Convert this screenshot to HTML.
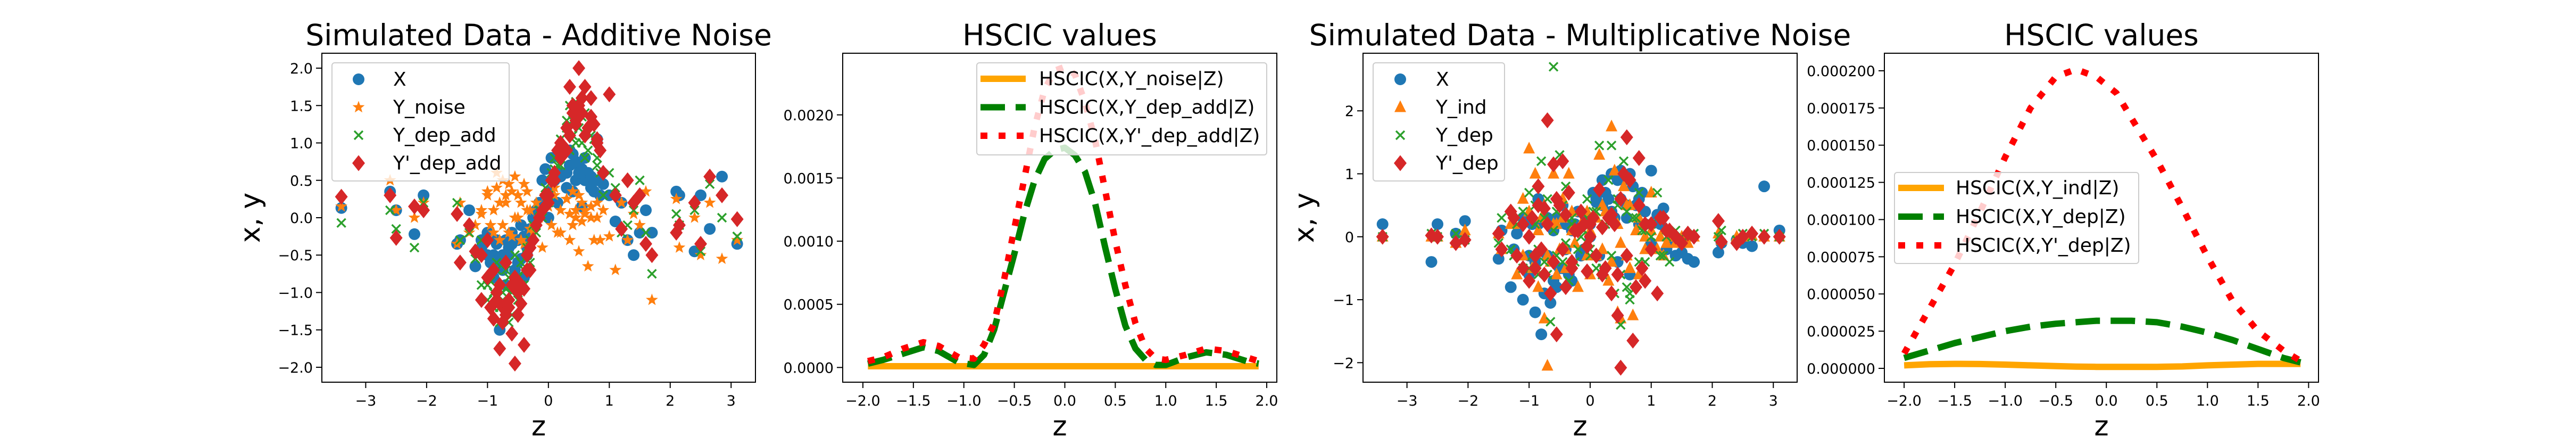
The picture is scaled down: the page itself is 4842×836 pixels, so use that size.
<!DOCTYPE html>
<html><head><meta charset="utf-8"><title>HSCIC simulated data</title>
<style>
html,body{margin:0;padding:0;background:#fff;}
svg{display:block;font-family:"DejaVu Sans","Liberation Sans",sans-serif;}
</style></head>
<body>
<svg id="fig" width="4842" height="836" viewBox="0 0 4842 836" xmlns="http://www.w3.org/2000/svg">
<rect x="0" y="0" width="4842" height="836" fill="#fff"/>
</svg>
<script>
// ---------- Panel 1 data (additive noise) ----------
const zAdd = [-3.4,-2.6,-2.5,-2.2,-2.05,-1.5,-1.45,-1.3,-1.2,-1.1,
 -1.0,-0.95,-0.9,-0.85,-0.8,-0.75,-0.7,-0.65,-0.6,-0.55,
 -0.5,-0.45,-0.4,-0.35,-0.3,-0.2,-0.1,-0.05,0.0,0.05,
 0.1,0.15,0.2,0.3,0.35,0.4,0.45,0.5,0.55,0.6,
 0.65,0.7,0.8,0.85,0.9,1.0,1.1,1.2,1.3,1.4,
 1.5,1.6,1.7,2.1,2.15,2.4,2.5,2.65,2.85,3.1];
const xAdd = [0.13,0.35,0.1,-0.22,0.3,-0.35,-0.3,0.1,-0.65,-0.3,
 -0.5,-0.6,-0.8,-0.35,-1.5,-0.5,-0.3,-0.4,-0.2,-0.7,
 -0.3,-0.1,-0.8,-0.5,-0.15,0.1,0.5,0.65,0.0,0.8,
 0.5,0.2,0.6,0.4,0.9,0.35,0.5,0.7,0.15,0.5,
 0.6,0.4,1.05,0.3,0.45,0.3,-0.05,0.2,-0.3,-0.5,
 -0.2,0.1,-0.2,0.35,0.3,-0.45,0.3,-0.15,0.55,-0.35];
const yNoise = [0.15,0.5,0.1,0.0,0.2,-0.35,0.2,-0.2,-0.1,0.05,
 0.3,-0.1,0.1,0.4,-0.3,0.5,0.2,-0.2,0.35,0.0,
 0.3,-0.3,0.45,0.1,-0.15,0.2,-0.4,0.3,0.15,-0.1,
 0.4,-0.2,0.1,0.25,-0.3,0.35,0.0,-0.45,0.2,0.05,
 -0.65,0.15,0.0,-0.3,0.1,-0.25,-0.7,0.2,-0.3,0.05,
 -0.1,0.35,-1.1,0.25,-0.4,0.0,-0.5,0.2,-0.55,-0.3];
const yDepAdd = [-0.07,0.1,-0.15,-0.4,0.2,0.2,-0.3,-0.2,-0.55,-0.9,
 -1.1,-0.85,-1.2,-0.7,-1.4,-1.0,-0.95,-0.8,-1.3,-0.9,
 -0.8,-0.6,-0.9,-0.5,-0.3,-0.2,0.0,0.4,0.3,0.6,
 0.8,0.7,1.05,1.3,1.5,1.1,1.55,1.2,1.0,1.4,
 0.9,1.3,0.7,0.6,0.3,0.6,0.4,-0.2,-0.1,0.1,
 0.5,-0.2,-0.75,0.05,-0.1,0.1,-0.45,0.45,0.0,-0.25];
const yPDepAdd = [0.28,0.3,-0.27,0.15,0.1,0.05,-0.6,-0.1,-0.45,-1.1,
 -0.8,-1.2,-1.35,-1.0,-1.75,-1.2,-1.3,-1.1,-1.55,-1.95,
 -1.0,-0.9,-1.7,-0.7,-0.4,-0.1,0.1,0.3,0.2,0.5,
 0.6,0.9,1.0,1.2,1.75,1.5,1.3,2.0,1.4,1.75,
 1.2,1.6,1.0,0.9,0.6,1.65,0.3,-0.15,0.5,0.2,
 0.3,-0.35,-0.5,-0.2,-0.1,0.2,-0.35,0.55,0.3,-0.02];
// second batch of central samples
const zAdd2 = [-1.1,-1.0,-0.9,-0.85,-0.8,-0.75,-0.7,-0.65,-0.6,-0.55,
 -0.5,-0.45,-0.4,-0.35,-0.3,-0.25,-0.15,0.0,0.1,0.2,
 0.3,0.35,0.4,0.45,0.5,0.55,0.6,0.7,0.75,0.8];
const xAdd2 = [-0.4,-0.2,-0.5,-0.3,-0.6,-0.7,-0.9,-0.5,-0.35,-0.8,
 -0.6,-0.55,-0.25,-0.4,-0.3,0.0,0.2,0.35,0.5,0.55,
 0.6,0.7,0.85,0.75,0.6,0.65,0.8,0.55,0.35,0.5];
const yNoise2 = [0.1,0.35,-0.2,0.6,0.2,-0.1,0.3,0.45,-0.25,0.55,
 0.0,0.2,-0.35,0.35,0.1,-0.2,0.0,0.15,0.3,-0.2,
 0.25,0.05,-0.1,0.1,0.3,-0.05,0.1,0.0,-0.3,0.2];
const yDepAdd2 = [-0.3,-0.9,-1.0,-0.6,-1.2,-1.1,-0.7,-1.4,-1.0,-0.5,
 -1.1,-0.9,-0.7,-0.4,-0.6,-0.1,0.1,0.2,0.65,0.7,
 1.2,0.9,1.3,1.0,1.2,1.35,0.8,1.1,1.05,0.8];
const yPDepAdd2 = [-0.5,-0.3,-0.7,-1.1,-0.9,-1.4,-0.6,-1.2,-0.9,-0.8,
 -1.3,-1.15,-0.95,-0.5,-0.7,-0.3,0.0,0.3,0.5,0.8,
 0.9,1.1,1.4,1.25,1.5,1.6,1.1,1.35,1.25,1.05];
const ticksX1 = [-3,-2,-1,0,1,2,3];
const ticksY1 = [-2.0,-1.5,-1.0,-0.5,0.0,0.5,1.0,1.5,2.0];

// ---------- Panel 2 data (HSCIC additive) ----------
const zH2 = [-1.95,-1.8,-1.6,-1.4,-1.25,-1.05,-0.9,-0.8,-0.7,-0.6,-0.5,-0.4,-0.3,-0.2,-0.1,0.0,0.1,0.2,0.3,0.4,0.5,0.6,0.7,0.8,0.9,1.0,1.2,1.4,1.6,1.8,1.92];
const hNoise = [0.00001,0.00001,0.00001,0.00001,0.00001,0.00001,0.00001,0.00001,0.00001,0.00001,0.00001,0.00001,0.00001,0.00001,0.00001,0.00001,0.00001,0.00001,0.00001,0.00001,0.00001,0.00001,0.00001,0.00001,0.00001,0.00001,0.00001,0.00001,0.00001,0.00001,0.00001];
const hDepAdd = [0.00003,0.00006,0.00011,0.00016,0.00013,0.00004,0.00002,0.0001,0.0003,0.0006,0.0009,0.00122,0.00148,0.00165,0.00172,0.00174,0.00168,0.00155,0.0013,0.00095,0.00062,0.00033,0.00015,0.00006,0.00002,0.00002,0.00008,0.00012,0.0001,0.00005,0.00003];
const hPDepAdd = [0.00005,0.00008,0.00015,0.0002,0.00017,0.00008,0.00007,0.00018,0.00035,0.0007,0.0011,0.0015,0.0019,0.0022,0.00235,0.00238,0.00232,0.0021,0.0018,0.0014,0.001,0.00065,0.00035,0.00015,0.00007,0.00006,0.0001,0.00015,0.00013,0.00008,0.00005];
const ticksX2 = [-2.0,-1.5,-1.0,-0.5,0.0,0.5,1.0,1.5,2.0];
const ticksY2 = [0.0,0.0005,0.001,0.0015,0.002];

// ---------- Panel 3 data (multiplicative noise) ----------
const zMul = [-3.4,-2.6,-2.5,-2.2,-2.05,-1.5,-1.45,-1.3,-1.2,-1.1,
 -1.0,-0.95,-0.9,-0.85,-0.8,-0.75,-0.7,-0.65,-0.6,-0.55,
 -0.5,-0.45,-0.4,-0.35,-0.3,-0.2,-0.1,-0.05,0.0,0.05,
 0.1,0.15,0.2,0.3,0.35,0.4,0.45,0.5,0.55,0.6,
 0.65,0.7,0.8,0.85,0.9,1.0,1.1,1.2,1.3,1.4,
 1.5,1.6,1.7,2.1,2.15,2.4,2.5,2.65,2.85,3.1];
const xMul = [0.2,-0.4,0.2,0.05,0.25,-0.35,0.1,-0.8,0.05,-1.0,
 -0.3,0.2,-1.2,0.6,-1.55,-0.9,0.3,-1.05,0.1,-0.8,
 -0.5,0.5,0.2,-0.6,-0.7,0.4,-0.2,0.3,0.0,0.7,
 0.55,-0.3,0.9,0.6,1.0,0.3,-0.4,1.05,0.9,0.5,
 -0.6,0.8,0.6,0.7,0.2,1.05,0.35,0.45,-0.1,-0.3,
 -0.25,-0.35,-0.4,-0.25,-0.1,-0.05,-0.1,-0.15,0.8,0.1];
const yInd = [0.0,0.0,0.0,-0.1,0.1,0.05,-0.2,0.2,-0.6,0.6,
 1.4,-0.5,1.0,-0.8,0.3,-1.3,-2.05,-0.4,1.0,0.2,
 -0.2,0.6,-0.5,1.0,0.1,-0.8,0.2,0.4,-0.6,0.3,
 -0.3,1.3,0.5,-0.7,1.75,1.05,-1.2,-1.3,0.8,-0.3,
 0.5,-1.25,-0.6,0.2,0.0,0.7,-0.2,-0.3,0.0,-0.1,
 0.0,-0.1,0.0,0.05,-0.05,0.0,0.0,0.02,0.0,0.0];
const yDep = [0.0,0.05,0.0,0.05,-0.05,-0.1,0.3,-0.2,0.2,-0.5,
 0.7,-0.3,0.5,-0.6,1.2,-0.4,0.6,-1.35,2.7,0.4,
 1.3,-0.4,0.8,-0.7,0.3,-0.2,0.1,0.6,-0.3,0.4,
 -0.5,1.45,-0.6,0.9,1.45,-0.9,0.5,-1.4,1.2,-0.8,
 -1.0,0.3,0.7,0.1,-0.4,0.0,0.7,-0.3,-0.4,0.1,
 0.0,0.0,0.05,0.0,0.1,-0.05,0.05,0.0,0.05,0.0];
const yPDep = [0.0,0.02,0.0,-0.1,-0.05,0.05,-0.2,0.4,-0.3,0.2,
 -0.7,0.3,-0.5,0.8,-0.2,0.45,1.85,-0.9,1.15,-1.55,
 0.5,1.2,-0.8,0.7,-0.4,0.1,0.2,-0.55,0.0,0.3,
 -0.3,0.75,-0.6,0.3,-0.9,0.2,-1.25,-2.08,1.0,1.58,
 0.9,-1.65,1.25,-0.5,-0.7,0.2,-0.9,0.3,0.1,0.0,
 -0.1,0.05,0.0,0.25,-0.08,-0.1,0.0,0.05,0.0,0.0];
const zMul2 = [-1.25,-1.1,-1.0,-0.9,-0.85,-0.75,-0.7,-0.6,-0.55,-0.45,
 -0.4,-0.3,-0.25,-0.15,-0.05,0.0,0.1,0.2,0.25,0.35,
 0.45,0.5,0.6,0.65,0.75,0.8,0.9,1.0,1.15,1.25];
const xMul2 = [-0.2,0.3,-0.6,-0.4,0.2,-0.9,-0.3,-0.7,0.3,-0.5,
 -0.2,0.1,0.2,-0.3,0.3,0.2,0.6,0.5,0.7,0.4,
 0.9,0.6,0.3,1.0,0.5,0.2,0.4,-0.1,0.2,-0.2];
const yInd2 = [0.2,-0.3,0.4,-0.5,0.1,0.5,-0.3,0.2,-0.6,0.3,
 -0.2,0.4,-0.1,0.2,-0.3,0.1,0.3,-0.2,0.4,-0.4,
 0.2,-0.1,0.5,-0.5,0.1,0.3,-0.2,0.1,0.0,-0.1];
const yDep2 = [-0.3,0.4,-0.5,0.2,-0.2,0.3,-0.6,0.1,-0.3,0.5,
 -0.1,0.2,-0.4,0.0,0.3,-0.2,0.4,-0.5,0.2,-0.3,
 0.6,-0.6,0.4,-0.9,0.3,-0.4,0.1,0.2,-0.3,0.0];
const yPDep2 = [0.3,-0.5,0.0,-0.3,0.5,-0.6,0.2,-0.4,0.6,-0.2,
 0.35,-0.5,0.1,0.4,-0.15,0.2,-0.3,0.15,-0.5,0.35,
 -0.6,0.6,-0.3,0.9,-0.8,0.5,0.2,-0.2,0.3,0.1];
const ticksX3 = [-3,-2,-1,0,1,2,3];
const ticksY3 = [-2,-1,0,1,2];

// ---------- Panel 4 data (HSCIC multiplicative) ----------
const zH4 = [-2.0,-1.75,-1.5,-1.25,-1.0,-0.75,-0.5,-0.3,-0.1,0.1,0.25,0.5,0.75,1.0,1.25,1.5,1.75,1.92];
const hInd = [0.000002,0.0000028,0.000003,0.0000029,0.0000025,0.000002,0.0000015,0.0000012,0.000001,0.000001,0.000001,0.000001,0.0000013,0.000002,0.0000025,0.000003,0.000003,0.000003];
const hDep = [0.000007,0.000012,0.000017,0.000021,0.000025,0.000028,0.00003,0.000031,0.000032,0.000032,0.000032,0.000031,0.000028,0.000024,0.000019,0.000013,0.000007,0.000004];
const hPDep = [0.00001,0.00004,0.00007,0.000105,0.000142,0.000175,0.000196,0.000201,0.000196,0.000185,0.000168,0.00014,0.000108,0.000075,0.000045,0.000025,0.000012,0.000005];
const ticksX4 = [-2.0,-1.5,-1.0,-0.5,0.0,0.5,1.0,1.5,2.0];
const ticksY4 = [0,0.000025,0.00005,0.000075,0.0001,0.000125,0.00015,0.000175,0.0002];

const NS = 'http://www.w3.org/2000/svg';
const svg = document.getElementById('fig');
function mk(tag, attrs, parent){
  const e = document.createElementNS(NS, tag);
  for (const k in attrs) e.setAttribute(k, attrs[k]);
  (parent||svg).appendChild(e);
  return e;
}
function scale(d0,d1,r0,r1){ return v => r0 + (v-d0)/(d1-d0)*(r1-r0); }

function marker(g, type, cx, cy, color){
  let e;
  if (type==='circle'){
    e = mk('circle',{cx:cx,cy:cy,r:11,fill:color},g);
  } else if (type==='diamond'){
    e = mk('polygon',{points:`${cx},${cy-15} ${cx+12},${cy} ${cx},${cy+15} ${cx-12},${cy}`,fill:color},g);
  } else if (type==='x'){
    e = mk('path',{d:`M${cx-8},${cy-8}L${cx+8},${cy+8}M${cx-8},${cy+8}L${cx+8},${cy-8}`,stroke:color,'stroke-width':3.4,fill:'none'},g);
  } else if (type==='tri'){
    e = mk('polygon',{points:`${cx},${cy-13} ${cx+11},${cy+9} ${cx-11},${cy+9}`,fill:color},g);
  } else if (type==='star'){
    let p=[];
    for(let i=0;i<10;i++){const r=i%2?5:12;const a=-Math.PI/2+i*Math.PI/5;p.push((cx+r*Math.cos(a)).toFixed(1)+','+(cy+r*Math.sin(a)).toFixed(1));}
    e = mk('polygon',{points:p.join(' '),fill:color},g);
  }
  return e;
}

function fmt(v, d){ return (v<0?'\u2212':'') + Math.abs(v).toFixed(d); }

function axes(p){
  const g = mk('g',{});
  
  
  const sx = scale(p.xd[0],p.xd[1],p.L,p.R);
  const sy = scale(p.yd[0],p.yd[1],p.B,p.T);
  p.tx.forEach(t=>{
    const x=sx(t);
    mk('line',{x1:x,y1:p.B,x2:x,y2:p.B+11,stroke:'#000','stroke-width':2},g);
    const tl = mk('text',{x:x,y:762,'font-size':27,'text-anchor':'middle',fill:'#000'},g);
    tl.textContent = fmt(t,p.txd);
    
    
  });
  p.ty.forEach(t=>{
    const y=sy(t);
    mk('line',{x1:p.L-11,y1:y,x2:p.L,y2:y,stroke:'#000','stroke-width':2},g);
    const tl = mk('text',{x:p.L-17,y:y+10,'font-size':27,'text-anchor':'end',fill:'#000'},g);
    tl.textContent = fmt(t,p.tyd);
    
    
  });
  const plot = mk('g',{},g);
  
  
  p.draw(plot, sx, sy);
  mk('rect',{x:p.L,y:p.T,width:p.R-p.L,height:p.B-p.T,fill:'none',stroke:'#000','stroke-width':2},g);
  const tt = mk('text',{x:(p.L+p.R)/2,y:85,'font-size':55,'text-anchor':'middle',fill:'#000'},g);
  tt.textContent = p.title;
  
  
  const xl = mk('text',{x:(p.L+p.R)/2,y:818,'font-size':52,'text-anchor':'middle',fill:'#000'},g);
  xl.textContent = 'z';
  
  
  if (p.ylab){
    const yl = mk('text',{x:0,y:0,'font-size':52,'text-anchor':'middle',fill:'#000',transform:`translate(${p.ylabX+18},409) rotate(-90)`},g);
    yl.textContent = 'x, y';
    
    
  }
  const lg = mk('g',{},g);
  
  
  const lb = p.leg;
  mk('rect',{x:lb.x,y:lb.y,width:lb.w,height:lb.h,rx:5,fill:'#fff','fill-opacity':0.8,stroke:'#ccc','stroke-width':2},lg);
  lb.items.forEach((it,i)=>{
    const y = lb.y0 + i*lb.dy;
    const eg = mk('g',{},lg);
    
    
    if (it.m) marker(eg,it.m,lb.mx,y,it.c);
    else mk('line',Object.assign({x1:lb.mx,y1:y,x2:lb.mx2,y2:y,stroke:it.c,'stroke-width':12},it.dash?{'stroke-dasharray':it.dash}:{}),eg);
    const t = mk('text',{x:lb.tx,y:y+12,'font-size':36,fill:'#000'},eg);
    t.textContent = it.t;
  });
}

function scatter(g, sx, sy, zs, ys, type, color, name){
  const sg = mk('g',{},g);
  
  
  zs.forEach((z,i)=>{
    const e = marker(sg,type,sx(z),sy(ys[i]),color);
    
    
  });
}
function line(g, sx, sy, zs, ys, color, dash, name){
  const d = zs.map((z,i)=>(i?'L':'M')+sx(z).toFixed(1)+','+sy(ys[i]).toFixed(1)).join('');
  const e = mk('path',Object.assign({d:d,fill:'none',stroke:color,'stroke-width':12,'stroke-linejoin':'round'},dash?{'stroke-dasharray':dash}:{}),g);
  
  
}

axes({name:'panel-additive-scatter',L:605,R:1420,T:100,B:718,xd:[-3.72,3.40],yd:[-2.1995,2.1995],
  tx:ticksX1,txd:0,ty:ticksY1,tyd:1,title:'Simulated Data - Additive Noise',ylab:true,ylabX:470,
  draw:(g,sx,sy)=>{
    scatter(g,sx,sy,zAdd,xAdd,'circle','#1f77b4','series-x');
    scatter(g,sx,sy,zAdd2,xAdd2,'circle','#1f77b4','series-x');
    scatter(g,sx,sy,zAdd,yNoise,'star','#ff7f0e','series-y-noise');
    scatter(g,sx,sy,zAdd2,yNoise2,'star','#ff7f0e','series-y-noise');
    scatter(g,sx,sy,zAdd,yDepAdd,'x','#2ca02c','series-y-dep-add');
    scatter(g,sx,sy,zAdd2,yDepAdd2,'x','#2ca02c','series-y-dep-add');
    scatter(g,sx,sy,zAdd,yPDepAdd,'diamond','#d62728','series-yp-dep-add');
    scatter(g,sx,sy,zAdd2,yPDepAdd2,'diamond','#d62728','series-yp-dep-add');
  },
  leg:{x:624,y:118,w:333,h:222,y0:149,dy:52.5,mx:674,tx:739,items:[
    {m:'circle',c:'#1f77b4',t:'X'},{m:'star',c:'#ff7f0e',t:'Y_noise'},
    {m:'x',c:'#2ca02c',t:'Y_dep_add'},{m:'diamond',c:'#d62728',t:"Y'_dep_add"}]}
});

axes({name:'panel-additive-hscic',L:1584,R:2400,T:100,B:718,xd:[-2.2,2.1],yd:[-0.0001165,0.002488],
  tx:ticksX2,txd:1,ty:ticksY2,tyd:4,title:'HSCIC values',ylab:false,
  draw:(g,sx,sy)=>{
    line(g,sx,sy,zH2,hNoise,'#ffa500',null,'line-hscic-noise');
    line(g,sx,sy,zH2,hDepAdd,'#008000','46 20','line-hscic-dep-add');
    line(g,sx,sy,zH2,hPDepAdd,'#ff0000','13 21','line-hscic-yp-dep-add');
  },
  leg:{x:1836,y:118,w:545,h:173,y0:148,dy:53.5,mx:1843,mx2:1928,tx:1953,items:[
    {c:'#ffa500',t:'HSCIC(X,Y_noise|Z)'},{c:'#008000',dash:'46 20',t:'HSCIC(X,Y_dep_add|Z)'},
    {c:'#ff0000',dash:'13 21',t:"HSCIC(X,Y'_dep_add|Z)"}]}
});

axes({name:'panel-multiplicative-scatter',L:2562,R:3378,T:100,B:718,xd:[-3.72,3.39],yd:[-2.31,2.915],
  tx:ticksX3,txd:0,ty:ticksY3,tyd:0,title:'Simulated Data - Multiplicative Noise',ylab:true,ylabX:2451,
  draw:(g,sx,sy)=>{
    scatter(g,sx,sy,zMul,xMul,'circle','#1f77b4','series-x');
    scatter(g,sx,sy,zMul2,xMul2,'circle','#1f77b4','series-x');
    scatter(g,sx,sy,zMul,yInd,'tri','#ff7f0e','series-y-ind');
    scatter(g,sx,sy,zMul2,yInd2,'tri','#ff7f0e','series-y-ind');
    scatter(g,sx,sy,zMul,yDep,'x','#2ca02c','series-y-dep');
    scatter(g,sx,sy,zMul2,yDep2,'x','#2ca02c','series-y-dep');
    scatter(g,sx,sy,zMul,yPDep,'diamond','#d62728','series-yp-dep');
    scatter(g,sx,sy,zMul2,yPDep2,'diamond','#d62728','series-yp-dep');
  },
  leg:{x:2581,y:118,w:247,h:222,y0:149,dy:52.5,mx:2632,tx:2699,items:[
    {m:'circle',c:'#1f77b4',t:'X'},{m:'tri',c:'#ff7f0e',t:'Y_ind'},
    {m:'x',c:'#2ca02c',t:'Y_dep'},{m:'diamond',c:'#d62728',t:"Y'_dep"}]}
});

axes({name:'panel-multiplicative-hscic',L:3542,R:4358,T:100,B:718,xd:[-2.195,2.098],yd:[-0.0000093,0.0002118],
  tx:ticksX4,txd:1,ty:ticksY4,tyd:6,title:'HSCIC values',ylab:false,
  draw:(g,sx,sy)=>{
    line(g,sx,sy,zH4,hInd,'#ffa500',null,'line-hscic-ind');
    line(g,sx,sy,zH4,hDep,'#008000','46 20','line-hscic-dep');
    line(g,sx,sy,zH4,hPDep,'#ff0000','13 21','line-hscic-yp-dep');
  },
  leg:{x:3561,y:324,w:459,h:171,y0:353,dy:54,mx:3568,mx2:3654,tx:3676,items:[
    {c:'#ffa500',t:'HSCIC(X,Y_ind|Z)'},{c:'#008000',dash:'46 20',t:'HSCIC(X,Y_dep|Z)'},
    {c:'#ff0000',dash:'13 21',t:"HSCIC(X,Y'_dep|Z)"}]}
});
</script>
</body></html>
